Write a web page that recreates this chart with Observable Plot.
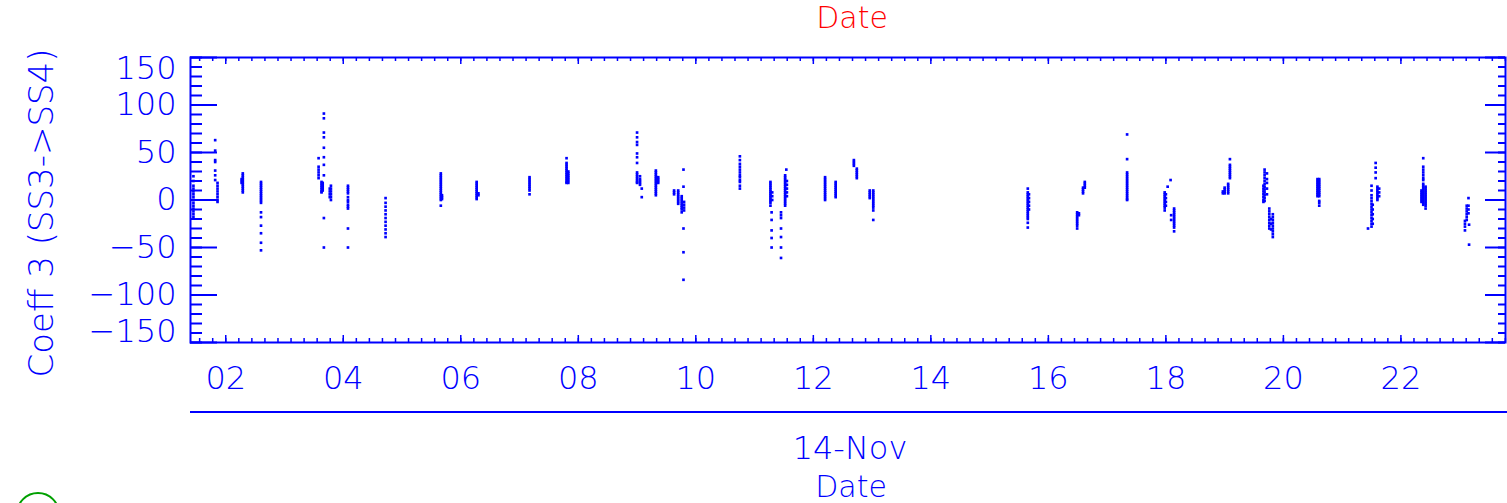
<!DOCTYPE html>
<html><head><meta charset="utf-8">
<script src="https://cdn.jsdelivr.net/npm/d3@7"></script>
<script src="https://cdn.jsdelivr.net/npm/@observablehq/plot@0.6"></script>
<style>
html,body{margin:0;padding:0;background:#fff;}
#wrap{position:relative;width:1507px;height:503px;overflow:hidden;}
#sep{position:absolute;left:190px;top:411px;width:1317px;height:2px;background:#0000ff;}
#ring{position:absolute;left:16px;top:492px;width:44px;height:44px;border:2px solid #00a000;border-radius:50%;box-sizing:border-box;}
</style></head><body><div id="wrap"><div id="sep"></div><div id="ring"></div></div>
<script>
// Day of month (Nov 2014) for each vertical run of samples
const segDays = [1.45,1.82,1.86,2.27,2.29,2.60,3.58,3.63,3.65,3.67,3.77,3.79,4.08,4.72,5.66,5.68,6.27,6.30,7.17,7.80,7.83,
  9.00,9.05,9.08,9.32,9.36,9.63,9.70,9.76,9.79,9.80,10.75,11.27,11.29,11.30,11.45,11.52,11.54,11.55,12.20,12.38,12.69,12.74,12.96,13.02,
  15.65,15.67,16.49,16.52,16.59,16.62,17.34,17.98,18.00,18.03,18.08,18.09,18.14,18.97,19.00,19.06,19.09,
  19.66,19.68,19.72,19.76,19.79,19.82,20.58,20.61,21.44,21.50,21.52,21.57,21.60,21.63,22.35,22.38,22.42,23.09,23.12,23.15,23.16];
// Coeff 3 (SS3->SS4) values of each run
const segValues = [
  [25,20,15,12,9,6,3,0,-3,-6,-9,-12,-15,-18],
  [63,52,42,40,31,26,21],
  [18,15,12,9,6,3,0,-2],
  [22,20,18],
  [28,26,24,22,20,18,16,14,12,10,8],
  [19,17,15,13,11,9,7,5,3,1,-1,-3,-13,-18,-27,-35,-45,-53],
  [44,35,32,29,26,23],
  [19,17,15,13,11,9,8],
  [18,16,14,12,10],
  [91,86,71,66,55,45,37,26,-19,-50],
  [12,9,6,3],
  [15,12,9,6,3,0],
  [15,13,11,9,7,3,0,-2,-5,-7,-9,-30,-50],
  [2,-3,-7,-11,-15,-19,-23,-27,-31,-35,-39],
  [28,26,24,22,20,18,16,14,12,10,8,6,4,2,0,-6],
  [5,3,1],
  [19,17,15,13,11,9,7,5,3,1],
  [7,5],
  [24,22,20,18,16,14,12,10,6],
  [44,39,37,35,33,31,29,27,25,23,21,19,18],
  [30,28,26,24,22,20,18],
  [71,66,61,58,49,45,39,29,27,25,23,21,19,18],
  [25,22,20,18,16],
  [12,3],
  [31,29,27,25,23,21,19,17,15,13,11,9,7,5],
  [24,22,20,18],
  [10,8,6],
  [10,8,6,4,2,0,-2,-4],
  [4,2,0,-2,-4,-6,-8,-10,-13],
  [32,14,-30,-55,-84],
  [-2,-5,-8,-11],
  [46,42,38,35,32,29,26,24,21,19,15,12],
  [19,17,15,13,11,9,7,5,3,1,-1,-3,-6],
  [-13,-21,-32,-40,-50],
  [8,4,0],
  [-13,-16,-19,-30,-39,-50,-61],
  [26,24,22,20,18,16,14,12,10,8,6,4,2,0,-2,-4,-6],
  [32],
  [20,16,12,8,4],
  [24,22,20,18,16,14,12,10,8,6,4,2,0],
  [19,17,15,13,11,9,7,5,3],
  [42,40,38,36],
  [33,31,29,27,25,23],
  [10,8,6,4,2],
  [10,8,6,4,2,0,-2,-4,-6,-8,-11,-21],
  [12,8,6,4,2,0,-2,-4,-6,-8,-10,-12,-14,-16,-18,-20,-24,-29],
  [6,2,-2,-6,-10],
  [-13,-15,-17,-19,-21,-23,-25,-27,-30],
  [-14,-16],
  [13,11,9,7],
  [19,17,15,13],
  [69,43,29,27,25,23,21,19,17,15,13,11,9,7,5,3,1,0],
  [8,6,4,2,0,-2,-4,-6,-8,-11],
  [6,2,-2,-6],
  [14],
  [21],
  [-16,-21],
  [-9,-11,-13,-15,-17,-19,-21,-23,-25,-27,-29,-33],
  [9,7],
  [13,11,9,7],
  [17,15,13,11,9,7],
  [43,37,35,33,31,29,27,25,23],
  [15,12,9,6,3,0,-2],
  [32,29,26,23,20,17,14,11,8,5,2,-1],
  [28,22,18,12,6],
  [-9,-12,-15,-18,-21,-24,-27,-30],
  [-20,-25,-31],
  [-15,-18,-21,-24,-27,-30,-33,-36,-39],
  [22,20,18,16,14,12,10,8,6,4],
  [22,20,18,16,14,12,10,8,6,4,-1,-3,-6],
  [-30],
  [15,10,5,2,-1,-4,-7,-10,-13,-16,-19,-22,-25,-28],
  [-5,-10,-15,-20,-25],
  [39,34,29,23],
  [14,12,10,8,6,4,2,0],
  [12,8,4],
  [10,8,6,4,2,0,-2],
  [44,35,32,29,26,23,21,17,15,13,11,9,7,5,3,1,-1,-3,-5],
  [14,12,10,8,6,4,2,0,-2,-4,-6,-9],
  [-22,-25,-28,-32],
  [-6,-9,-12,-15,-18,-21],
  [2,-6,-10,-14],
  [-26,-47]
];
const xTicks = [2,4,6,8,10,12,14,16,18,20,22];
const xTickLabels = ["02","04","06","08","10","12","14","16","18","20","22"];
const yTicks = [-150,-100,-50,0,50,100,150];
const yTickLabels = ["\u2212150","\u2212100","\u221250","0","50","100","150"];
const xDomain = [1.40, 23.78];
const yDomain = [-150, 150];

const points = segDays.flatMap((d, i) => segValues[i].map(v => ({day: d, value: v})));
const xMinor = d3.range(2 - 2/9*2, 23.8, 2/9).filter(d => d >= xDomain[0] - 1e-6 && d <= xDomain[1] + 1e-3);
const yMinor = d3.range(-150, 151, 10);

const blue = "#0000ff";
const W = 1507, H = 503, mL = 190, mR = 2, mT = 57, mB = 161;
const pw = W - mL - mR, ph = H - mT - mB;
const font = "DejaVu Sans";
const fw = 200;
const fs = 32;
const txt = {fill: blue, fontSize: fs, fontFamily: font, fontWeight: fw, lineAnchor: "middle"};

const chart = Plot.plot({
  width: W, height: H,
  marginLeft: mL, marginRight: mR, marginTop: mT, marginBottom: mB,
  x: {domain: xDomain, axis: null},
  y: {domain: yDomain, axis: null},
  style: {background: "white", overflow: "visible"},
  marks: [
    // left axis ticks
    Plot.tickY(yMinor, {y: d => d, stroke: blue, strokeWidth: 2, insetRight: pw - 12}),
    Plot.tickY(yTicks, {y: d => d, stroke: blue, strokeWidth: 2, insetRight: pw - 27}),
    // right axis ticks
    Plot.tickY(yMinor, {y: d => d, stroke: blue, strokeWidth: 2, insetLeft: pw - 7}),
    Plot.tickY(yTicks, {y: d => d, stroke: blue, strokeWidth: 2, insetLeft: pw - 20}),
    // bottom / top x ticks
    Plot.tickX(xMinor, {x: d => d, stroke: blue, strokeWidth: 1.5, insetTop: ph - 4}),
    Plot.tickX(xTicks, {x: d => d, stroke: blue, strokeWidth: 1.5, insetTop: ph - 7}),
    Plot.tickX(xMinor, {x: d => d, stroke: blue, strokeWidth: 1.5, insetBottom: ph - 4}),
    Plot.tickX(xTicks, {x: d => d, stroke: blue, strokeWidth: 1.5, insetBottom: ph - 7}),
    Plot.frame({stroke: blue, strokeWidth: 2}),
    // data
    Plot.dot(points, {x: "day", y: "value", symbol: "square", r: 1.5, fill: blue, stroke: "none"}),
    // y tick labels
    Plot.text(yTicks.slice(1, -1), {...txt, y: d => d, text: (d, i) => yTickLabels[i + 1], frameAnchor: "left", dx: -14, textAnchor: "end"}),
    Plot.text([yTicks[6]], {...txt, y: d => d, text: () => yTickLabels[6], frameAnchor: "left", dx: -14, dy: 11, textAnchor: "end"}),
    Plot.text([yTicks[0]], {...txt, y: d => d, text: () => yTickLabels[0], frameAnchor: "left", dx: -14, dy: -11, textAnchor: "end"}),
    // x tick labels
    Plot.text(xTicks, {...txt, x: d => d, text: (d, i) => xTickLabels[i], frameAnchor: "bottom", dy: 36}),
    // titles
    Plot.text(["Coeff 3 (SS3->SS4)"], {...txt, text: d => d, frameAnchor: "left", textAnchor: "middle", dx: -148, dy: 13, rotate: -90, fontSize: 34}),
    Plot.text(["Date"], {...txt, text: d => d, frameAnchor: "top", dx: 4, dy: -39, fontSize: 30, fill: "#ff0000"}),
    Plot.text(["14-Nov"], {...txt, text: d => d, frameAnchor: "bottom", dx: 2, dy: 106}),
    Plot.text(["Date"], {...txt, text: d => d, frameAnchor: "bottom", dx: 3, dy: 145, fontSize: 30})
  ]
});
document.getElementById("wrap").prepend(chart);
</script>
</body></html>
